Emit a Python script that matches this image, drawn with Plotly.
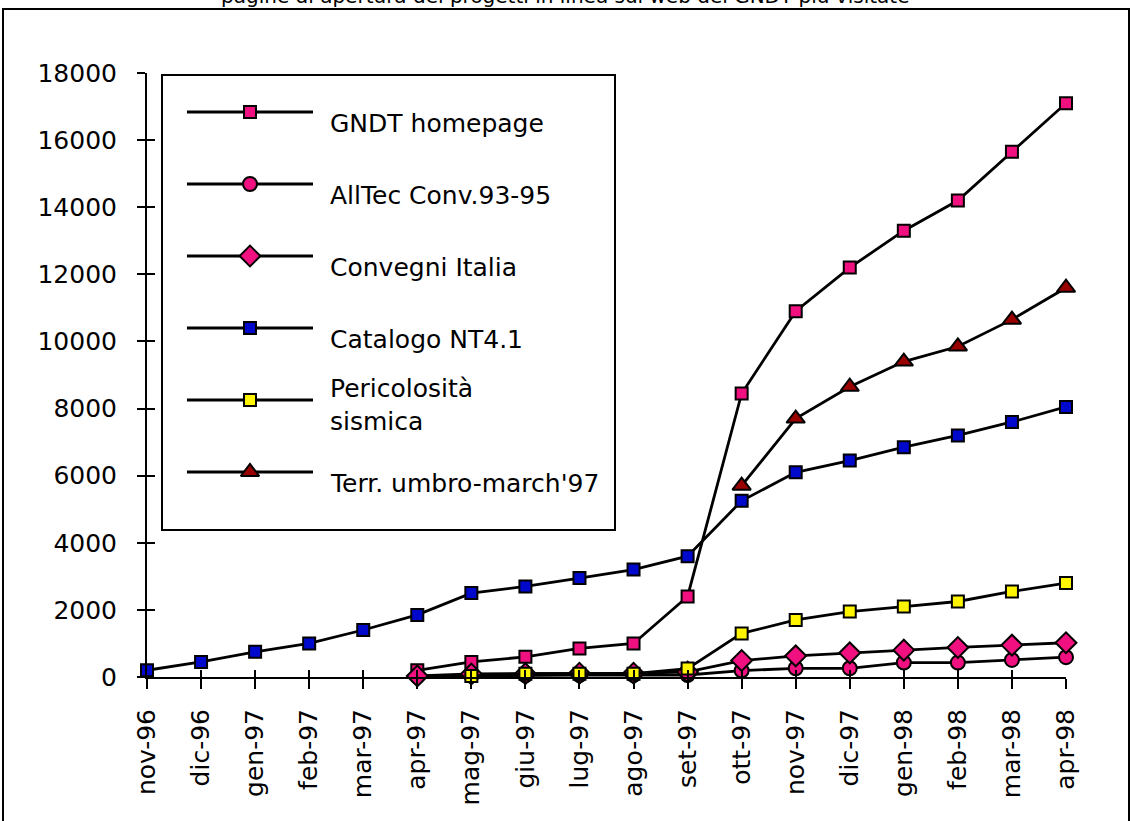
import plotly.graph_objects as go

# Months on the category axis
months = ["nov-96", "dic-96", "gen-97", "feb-97", "mar-97", "apr-97", "mag-97",
          "giu-97", "lug-97", "ago-97", "set-97", "ott-97", "nov-97", "dic-97",
          "gen-98", "feb-98", "mar-98", "apr-98"]

# Cumulative visits per project page
gndt_homepage = [None, None, None, None, None, 200, 450, 600, 850, 1000, 2400,
                 8450, 10900, 12200, 13300, 14200, 15650, 17100]
alltec_conv = [None, None, None, None, None, 20, 40, 50, 60, 60, 60,
               190, 260, 260, 430, 430, 510, 590]
convegni_italia = [None, None, None, None, None, 30, 90, 100, 110, 110, 150,
                   490, 630, 720, 800, 880, 950, 1020]
catalogo_nt = [200, 450, 750, 1000, 1400, 1850, 2500, 2700, 2950, 3200, 3600,
               5250, 6100, 6450, 6850, 7200, 7600, 8050]
pericolosita = [None, None, None, None, None, None, 30, 100, 100, 100, 250,
                1300, 1700, 1950, 2100, 2250, 2550, 2800]
terr_umbro = [None, None, None, None, None, None, None, None, None, None, None,
              5700, 7700, 8650, 9400, 9850, 10650, 11600]

y_ticks = list(range(0, 18001, 2000))
title_text = "pagine di apertura dei progetti in linea sul web del GNDT più visitate"

PINK = "#F01080"
BLUE = "#0008CC"
YELLOW = "#FFF500"
DARKRED = "#990000"
FONT = "DejaVu Sans"
FS = 25

series = [
    ("GNDT homepage", gndt_homepage, "square", PINK, 12),
    ("AllTec Conv.93-95", alltec_conv, "circle", PINK, 14),
    ("Convegni Italia", convegni_italia, "diamond", PINK, 16),
    ("Catalogo NT4.1", catalogo_nt, "square", BLUE, 12),
    ("Pericolosità<br>sismica", pericolosita, "square", YELLOW, 12),
    ("Terr. umbro-march'97", terr_umbro, "triangle-up", DARKRED, 16),
]

fig = go.Figure()

for name, vals, sym, col, size in series:
    fig.add_trace(go.Scatter(
        x=months, y=vals, mode="lines+markers", name=name,
        line=dict(color="black", width=2.8),
        marker=dict(symbol=sym, color=col, size=size,
                    line=dict(color="black", width=2)),
        cliponaxis=False, showlegend=False,
    ))

# Overlay axes: give the ticks the part that crosses into the plot
fig.add_trace(go.Scatter(x=[], y=[], xaxis="x2", yaxis="y2", showlegend=False))

# Legend panel drawn in its own small subplot
row_px = 72
for i, (name, vals, sym, col, size) in enumerate(series):
    fig.add_trace(go.Scatter(
        x=[25, 151], y=[i, i], mode="lines",
        xaxis="x3", yaxis="y3", showlegend=False,
        line=dict(color="black", width=2.8), hoverinfo="skip",
    ))
    fig.add_trace(go.Scatter(
        x=[88], y=[i], mode="markers",
        xaxis="x3", yaxis="y3", showlegend=False,
        marker=dict(symbol=sym, color=col, size=size,
                    line=dict(color="black", width=2)),
        hoverinfo="skip", cliponaxis=False,
    ))
    fig.add_annotation(
        x=166, y=i, xref="x3", yref="y3", text=name, showarrow=False,
        xanchor="left", yanchor="middle", align="left",
        yshift=-5 if "<br>" in name else -11,
        font=dict(family=FONT, size=FS, color="black"),
    )

W, H = 1131, 821
L, R, T, B = 147, 65, 73, 144
pw, ph = W - L - R, H - T - B


def px_x(p):
    return (p - L) / pw


def px_y(p):
    return (H - B - p) / ph


box_l, box_r, box_t, box_b = 162, 615, 75, 530

fig.update_layout(
    width=W, height=H, autosize=False,
    margin=dict(l=L, r=R, t=T, b=B),
    paper_bgcolor="white", plot_bgcolor="white",
    font=dict(family=FONT, size=FS, color="black"),
    xaxis=dict(
        type="category", categoryorder="array", categoryarray=months,
        range=[0, len(months) - 1], showgrid=False, zeroline=False,
        showline=True, linecolor="black", linewidth=2,
        ticks="outside", ticklen=10, tickwidth=2, tickcolor="black",
        tickangle=-90, ticklabelstandoff=10,
        tickfont=dict(family=FONT, size=FS, color="black"),
    ),
    yaxis=dict(
        range=[0, 18000], tickvals=y_ticks, tickformat="d",
        showgrid=False, zeroline=False,
        showline=True, linecolor="black", linewidth=2,
        ticks="outside", ticklen=8, tickwidth=2, tickcolor="black",
        ticklabelstandoff=15,
        tickfont=dict(family=FONT, size=FS, color="black"),
    ),
    xaxis2=dict(
        overlaying="x", anchor="y2", type="category",
        categoryorder="array", categoryarray=months,
        range=[0, len(months) - 1], showgrid=False, zeroline=False,
        showline=False, showticklabels=False,
        ticks="inside", ticklen=7, tickwidth=2, tickcolor="black",
    ),
    yaxis2=dict(
        overlaying="y", anchor="x2", side="left", range=[0, 18000],
        tickvals=y_ticks, showgrid=False, zeroline=False, showline=False,
        showticklabels=False,
        ticks="inside", ticklen=8, tickwidth=2, tickcolor="black",
    ),
    xaxis3=dict(
        domain=[px_x(box_l), px_x(box_r)], anchor="y3",
        range=[0, box_r - box_l], visible=False, fixedrange=True,
    ),
    yaxis3=dict(
        domain=[px_y(box_b), px_y(box_t)], anchor="x3",
        range=[(box_b - 112) / row_px, (box_t - 112) / row_px],
        visible=False, fixedrange=True,
    ),
    shapes=[
        # legend frame
        dict(type="rect", xref="paper", yref="paper",
             x0=px_x(box_l), x1=px_x(box_r), y0=px_y(box_b), y1=px_y(box_t),
             line=dict(color="black", width=2), layer="above"),
        # outer chart frame
        dict(type="rect", xref="paper", yref="paper",
             x0=px_x(3), x1=px_x(1129), y0=px_y(840), y1=px_y(9),
             line=dict(color="black", width=2), layer="above"),
    ],
)

fig.add_annotation(
    x=px_x(565), y=px_y(10), xref="paper", yref="paper",
    text=title_text, showarrow=False, xanchor="center", yanchor="bottom",
    font=dict(family=FONT, size=20, color="black"),
)

fig.write_html("out.html")
